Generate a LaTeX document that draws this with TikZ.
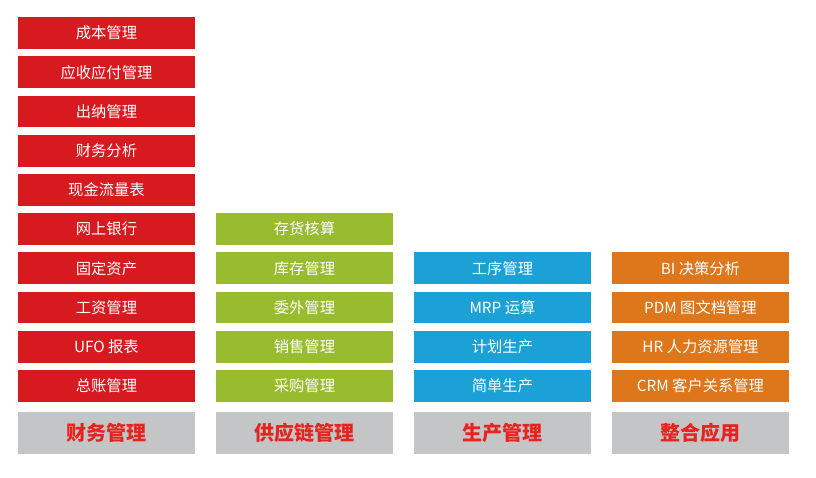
\documentclass[tikz,border=0pt]{standalone}
\usepackage{fontspec}
\setmainfont{Noto Sans CJK SC}
\definecolor{cred}{HTML}{D71920}
\definecolor{cgreen}{HTML}{98BC2E}
\definecolor{cblue}{HTML}{1BA1D5}
\definecolor{corange}{HTML}{DE761C}
\definecolor{cgray}{HTML}{C4C5C7}
\definecolor{ctitle}{HTML}{E8231F}
\tikzset{
  item/.style={minimum width=176.5pt, minimum height=31.8pt, inner sep=0pt, text=white, font=\fontsize{15.3pt}{17pt}\selectfont, anchor=north west},
  redbox/.style={item, fill=cred},
  greenbox/.style={item, fill=cgreen},
  bluebox/.style={item, fill=cblue},
  orangebox/.style={item, fill=corange},
  titlebox/.style={minimum width=176.5pt, minimum height=42pt, inner sep=0pt, fill=cgray, text=ctitle, font=\fontsize{20pt}{22pt}\selectfont\bfseries, anchor=north west}
}
\begin{document}
\begin{tikzpicture}[x=1pt,y=-1pt]
\useasboundingbox (0,0) rectangle (816,477);
% column 1
\node[redbox] (r0) at (18,17.0) {成本管理};
\node[redbox] (r1) at (18,56.2) {应收应付管理};
\node[redbox] (r2) at (18,95.4) {出纳管理};
\node[redbox] (r3) at (18,134.6) {财务分析};
\node[redbox] (r4) at (18,173.8) {现金流量表};
\node[redbox] (r5) at (18,213.0) {网上银行};
\node[redbox] (r6) at (18,252.2) {固定资产};
\node[redbox] (r7) at (18,291.4) {工资管理};
\node[redbox] (r8) at (18,330.6) {UFO 报表};
\node[redbox] (r9) at (18,369.8) {总账管理};
% column 2
\node[greenbox] (g5) at (216,213.0) {存货核算};
\node[greenbox] (g6) at (216,252.2) {库存管理};
\node[greenbox] (g7) at (216,291.4) {委外管理};
\node[greenbox] (g8) at (216,330.6) {销售管理};
\node[greenbox] (g9) at (216,369.8) {采购管理};
% column 3
\node[bluebox] (b6) at (414,252.2) {工序管理};
\node[bluebox] (b7) at (414,291.4) {MRP 运算};
\node[bluebox] (b8) at (414,330.6) {计划生产};
\node[bluebox] (b9) at (414,369.8) {简单生产};
% column 4
\node[orangebox] (o6) at (612,252.2) {BI 决策分析};
\node[orangebox] (o7) at (612,291.4) {PDM 图文档管理};
\node[orangebox] (o8) at (612,330.6) {HR 人力资源管理};
\node[orangebox] (o9) at (612,369.8) {CRM 客户关系管理};
% titles
\node[titlebox] (t1) at (18,412) {财务管理};
\node[titlebox] (t2) at (216,412) {供应链管理};
\node[titlebox] (t3) at (414,412) {生产管理};
\node[titlebox] (t4) at (612,412) {整合应用};
\end{tikzpicture}
\end{document}
